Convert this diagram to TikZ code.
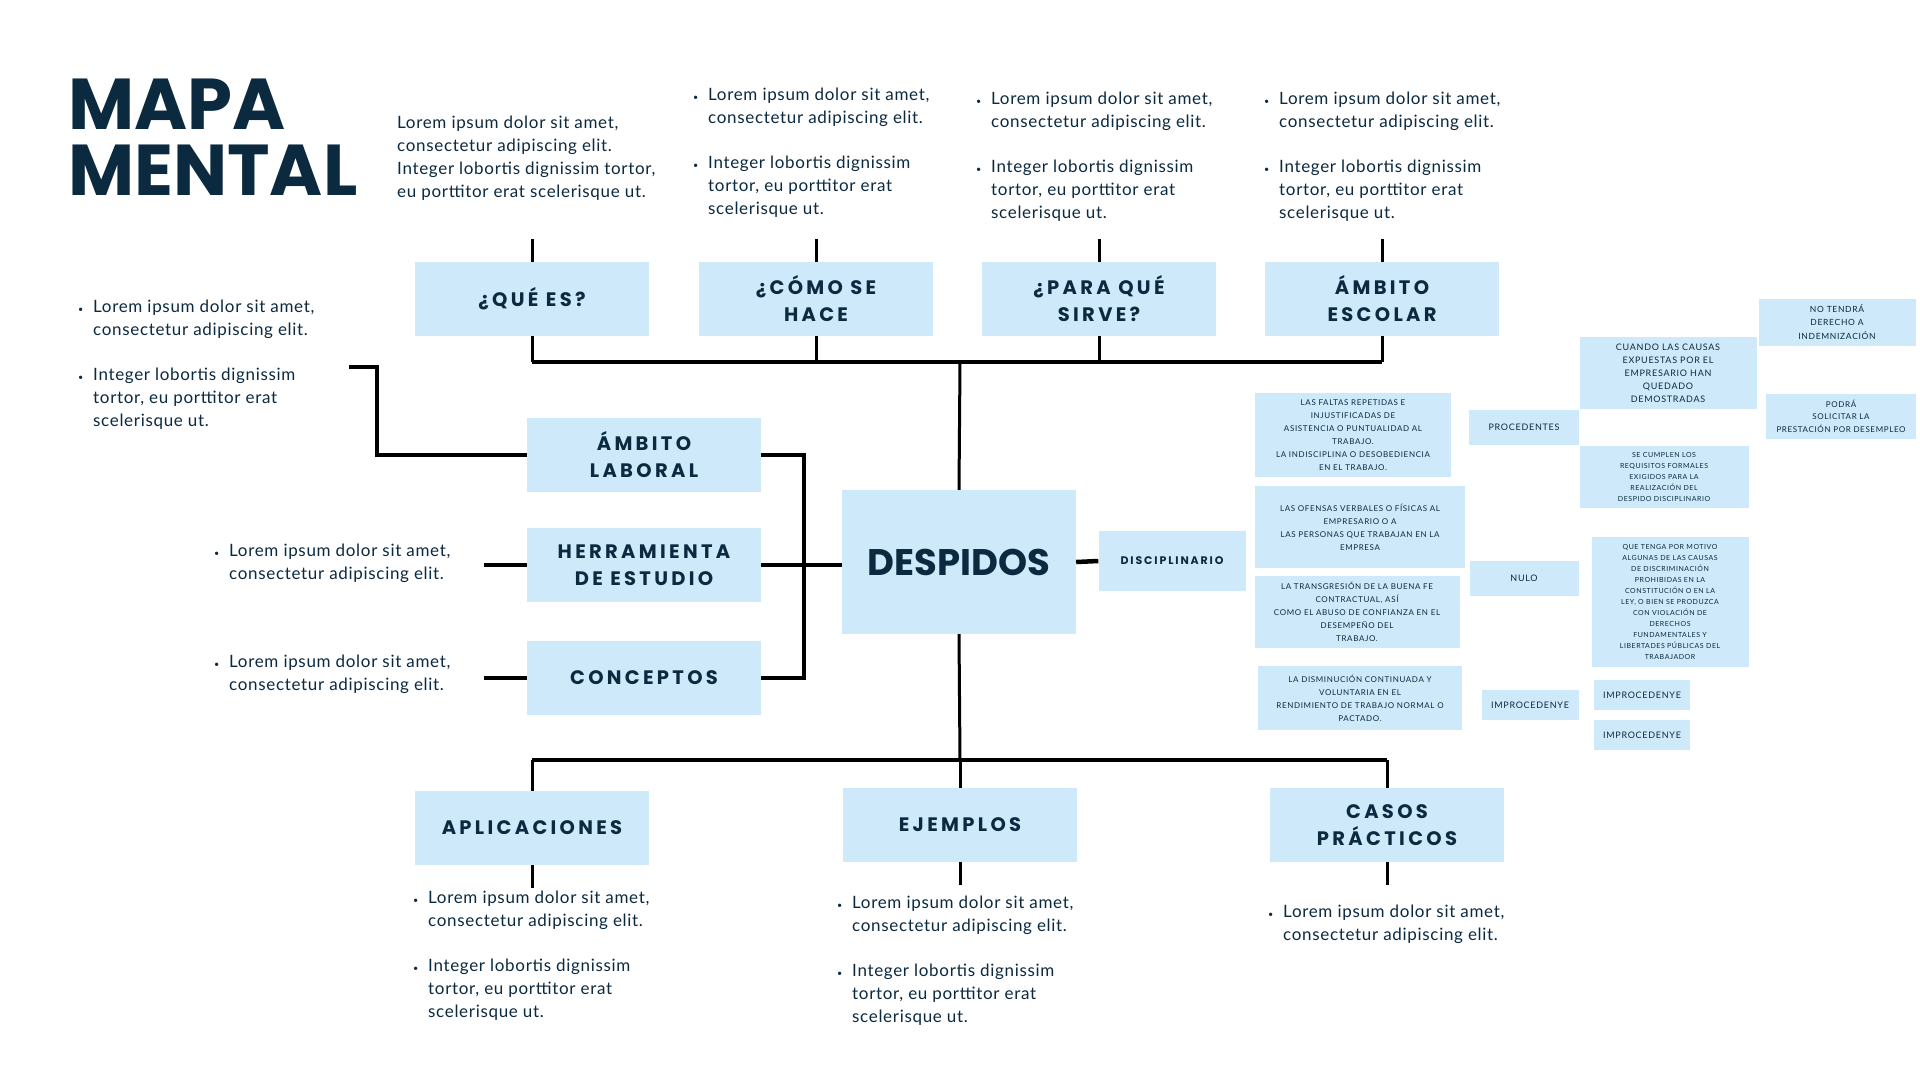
\documentclass[tikz,border=0pt]{standalone}
\usepackage{fontspec}
\setmainfont{Lato}[LetterSpace=4]
\newfontfamily\headfont[LetterSpace=17]{Poppins}
\newfontfamily\titlefont{Poppins}
\newfontfamily\capsfont[LetterSpace=8]{Lato}
\usepackage{tikz}

\definecolor{inkblue}{HTML}{0B2A40}
\definecolor{boxblue}{HTML}{CDE9FA}

\newcommand{\bitem}{\makebox[15pt][l]{\small\textbullet}}
\newcommand{\bcont}{\hspace*{15pt}}

\tikzset{
  topic/.style={fill=boxblue, text=inkblue, inner sep=0pt,
    minimum width=234pt, minimum height=74pt, align=center,
    font=\headfont\bfseries\fontsize{19.5}{27}\selectfont},
  leaf/.style={fill=boxblue, text=inkblue, inner sep=0pt, align=center,
    font=\capsfont\fontsize{8}{13}\selectfont},
  notes/.style={anchor=north west, inner sep=0pt, align=left,
    text=inkblue, font=\fontsize{17}{23}\selectfont},
  bus/.style={line width=4.5pt},
  stub/.style={line width=3pt},
}

\begin{document}
\begin{tikzpicture}[x=1pt,y=-1pt]
\fill[white] (0,0) rectangle (1920,1080);
\useasboundingbox (0,0) rectangle (1920,1080);

% Title
\node [anchor=north west, inner sep=0pt, align=left, text=inkblue,
    font=\titlefont\bfseries\fontsize{72}{66}\selectfont] (title) at (68,79) {MAPA\\MENTAL};

% Centre
\node [topic,
    minimum height=144pt,
    font=\titlefont\bfseries\fontsize{37}{40}\selectfont] (despidos) at (959,562) {DESPIDOS};

% Top row
\node [topic] (quees) at (532,299) {¿QUÉ ES?};
\node [topic] (como) at (816,299) {¿CÓMO SE\\HACE};
\node [topic] (para) at (1099,299) {¿PARA QUÉ\\SIRVE?};
\node [topic] (escolar) at (1382,299) {ÁMBITO\\ESCOLAR};

% Left column
\node [topic] (laboral) at (644,455) {ÁMBITO\\LABORAL};
\node [topic] (herramienta) at (644,565) {HERRAMIENTA\\DE ESTUDIO};
\node [topic] (conceptos) at (644,678) {CONCEPTOS};

% Bottom row
\node [topic] (aplicaciones) at (532,828) {APLICACIONES};
\node [topic] (ejemplos) at (960,825) {EJEMPLOS};
\node [topic] (casos) at (1387,825) {CASOS\\PRÁCTICOS};

% Notes
\node [notes] (nquees) at (397,116) {Lorem ipsum dolor sit amet,\\consectetur adipiscing elit.\\Integer lobortis dignissim tortor,\\eu porttitor erat scelerisque ut.};
\node [notes] (ncomo) at (693,88) {\bitem Lorem ipsum dolor sit amet,\\\bcont consectetur adipiscing elit.\\[22pt]\bitem Integer lobortis dignissim\\\bcont tortor, eu porttitor erat\\\bcont scelerisque ut.};
\node [notes] (npara) at (976,92) {\bitem Lorem ipsum dolor sit amet,\\\bcont consectetur adipiscing elit.\\[22pt]\bitem Integer lobortis dignissim\\\bcont tortor, eu porttitor erat\\\bcont scelerisque ut.};
\node [notes] (nescolar) at (1264,92) {\bitem Lorem ipsum dolor sit amet,\\\bcont consectetur adipiscing elit.\\[22pt]\bitem Integer lobortis dignissim\\\bcont tortor, eu porttitor erat\\\bcont scelerisque ut.};
\node [notes] (nlaboral) at (78,300) {\bitem Lorem ipsum dolor sit amet,\\\bcont consectetur adipiscing elit.\\[22pt]\bitem Integer lobortis dignissim\\\bcont tortor, eu porttitor erat\\\bcont scelerisque ut.};
\node [notes] (nherramienta) at (214,544) {\bitem Lorem ipsum dolor sit amet,\\\bcont consectetur adipiscing elit.};
\node [notes] (nconceptos) at (214,655) {\bitem Lorem ipsum dolor sit amet,\\\bcont consectetur adipiscing elit.};
\node [notes] (naplicaciones) at (413,891) {\bitem Lorem ipsum dolor sit amet,\\\bcont consectetur adipiscing elit.\\[22pt]\bitem Integer lobortis dignissim\\\bcont tortor, eu porttitor erat\\\bcont scelerisque ut.};
\node [notes] (nejemplos) at (837,896) {\bitem Lorem ipsum dolor sit amet,\\\bcont consectetur adipiscing elit.\\[22pt]\bitem Integer lobortis dignissim\\\bcont tortor, eu porttitor erat\\\bcont scelerisque ut.};
\node [notes] (ncasos) at (1268,905) {\bitem Lorem ipsum dolor sit amet,\\\bcont consectetur adipiscing elit.};

% Disciplinario branch
\node [leaf,
    minimum width=147pt,
    minimum height=60pt,
    font=\headfont\bfseries\fontsize{11}{13}\selectfont] (disciplinario) at (1172,561) {DISCIPLINARIO};
\node [leaf, minimum width=196pt, minimum height=84pt] (faltas) at (1353,435) {LAS FALTAS REPETIDAS E\\INJUSTIFICADAS DE\\ASISTENCIA O PUNTUALIDAD AL\\TRABAJO.\\LA INDISCIPLINA O DESOBEDIENCIA\\EN EL TRABAJO.};
\node [leaf, minimum width=210pt, minimum height=82pt] (ofensas) at (1360,527) {LAS OFENSAS VERBALES O FÍSICAS AL\\EMPRESARIO O A\\LAS PERSONAS QUE TRABAJAN EN LA\\EMPRESA};
\node [leaf, minimum width=205pt, minimum height=72pt] (buenafe) at (1357,612) {LA TRANSGRESIÓN DE LA BUENA FE\\CONTRACTUAL, ASÍ\\COMO EL ABUSO DE CONFIANZA EN EL\\DESEMPEÑO DEL\\TRABAJO.};
\node [leaf, minimum width=204pt, minimum height=64pt] (rendimiento) at (1360,698) {LA DISMINUCIÓN CONTINUADA Y\\VOLUNTARIA EN EL\\RENDIMIENTO DE TRABAJO NORMAL O\\PACTADO.};

\node [leaf, minimum width=110pt, minimum height=35pt, font=\capsfont\fontsize{9}{11}\selectfont] (procedentes) at (1524,427) {PROCEDENTES};
\node [leaf, minimum width=109pt, minimum height=35pt, font=\capsfont\fontsize{9}{11}\selectfont] (nulo) at (1524,578) {NULO};
\node [leaf, minimum width=97pt, minimum height=30pt, font=\capsfont\fontsize{9}{11}\selectfont] (improc) at (1530,705) {IMPROCEDENYE};

\node [leaf, minimum width=177pt, minimum height=72pt, font=\capsfont\fontsize{9}{13}\selectfont] (cuando) at (1668,373) {CUANDO LAS CAUSAS\\EXPUESTAS POR EL\\EMPRESARIO HAN\\QUEDADO\\DEMOSTRADAS};
\node [leaf, minimum width=169pt, minimum height=62pt, font=\capsfont\fontsize{7}{11}\selectfont] (requisitos) at (1664,477) {SE CUMPLEN LOS\\REQUISITOS FORMALES\\EXIGIDOS PARA LA\\REALIZACIÓN DEL\\DESPIDO DISCIPLINARIO};
\node [leaf, minimum width=157pt, minimum height=130pt, font=\capsfont\fontsize{7}{11}\selectfont] (motivo) at (1670,602) {QUE TENGA POR MOTIVO\\ALGUNAS DE LAS CAUSAS\\DE DISCRIMINACIÓN\\PROHIBIDAS EN LA\\CONSTITUCIÓN O EN LA\\LEY, O BIEN SE PRODUZCA\\CON VIOLACIÓN DE\\DERECHOS\\FUNDAMENTALES Y\\LIBERTADES PÚBLICAS DEL\\TRABAJADOR};
\node [leaf, minimum width=96pt, minimum height=30pt, font=\capsfont\fontsize{9}{11}\selectfont] (improca) at (1642,695) {IMPROCEDENYE};
\node [leaf, minimum width=96pt, minimum height=30pt, font=\capsfont\fontsize{9}{11}\selectfont] (improcb) at (1642,735) {IMPROCEDENYE};

\node [leaf, minimum width=157pt, minimum height=47pt, font=\capsfont\fontsize{8.5}{13.5}\selectfont] (indemnizacion) at (1837,322) {NO TENDRÁ\\DERECHO A\\INDEMNIZACIÓN};
\node [leaf, minimum width=150pt, minimum height=45pt, font=\capsfont\fontsize{8}{12.5}\selectfont] (desempleo) at (1841,416) {PODRÁ\\SOLICITAR LA\\PRESTACIÓN POR DESEMPLEO};

% Top connectors
\coordinate (topbus) at (960,362);
\foreach \n in {quees,como,para,escolar}{
  \draw[stub] (\n.south) -- (\n.south |- topbus);
  \draw[stub] (\n.north) -- ++(0,-23);
}
\draw[bus] (quees.south |- topbus) -- (escolar.south |- topbus);
\draw[stub] (topbus) -- (despidos.north);

% Bottom connectors
\coordinate (lowbus) at (960,760);
\draw[stub] (despidos.south) -- (lowbus);
\draw[bus] (aplicaciones.north |- lowbus) -- (casos.north |- lowbus);
\foreach \n in {aplicaciones,ejemplos,casos}{
  \draw[stub] (\n.north |- lowbus) -- (\n.north);
  \draw[stub] (\n.south) -- ++(0,23);
}

% Left connectors
\coordinate (lbend) at (377,367);
\draw[bus] (laboral.west) -| (lbend) -- ++(-28,0);
\draw[bus] (herramienta.west) -- ++(-43,0);
\draw[bus] (conceptos.west) -- ++(-43,0);
\draw[bus] (laboral.east) -- ++(43,0) |- (conceptos.east);
\draw[bus] (herramienta.east) -- (herramienta.east -| despidos.west);

% Right connector
\draw[bus] (despidos.east) -- (disciplinario.west);

\end{tikzpicture}
\end{document}
